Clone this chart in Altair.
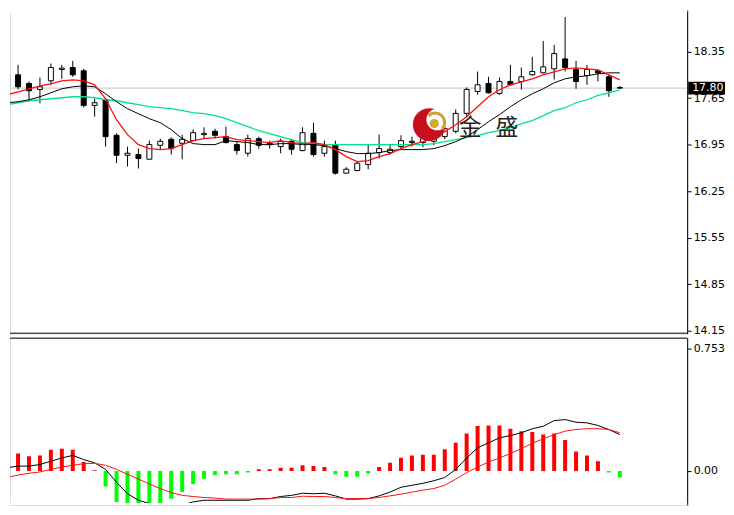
import altair as alt
import pandas as pd

# ---------------- data ----------------
idx = list(range(57))

open_ = [17.82, 18.00, 17.87, 17.78, 17.91, 18.08, 18.11, 18.06, 17.54, 17.63,
         17.09, 16.79, 16.80, 16.73, 16.94, 17.03, 16.97, 17.01, 17.10, 17.15,
         17.07, 16.95, 16.82, 17.04, 16.97, 16.92, 17.00, 16.86, 17.12, 16.82,
         16.95, 16.52, 16.56, 16.65, 16.83, 16.83, 16.92, 16.98, 16.98, 17.00,
         17.07, 17.15, 17.42, 17.75, 17.87, 17.72, 17.90, 17.90, 18.00, 18.03,
         18.09, 18.24, 18.08, 17.99, 18.06, 17.97, 17.81]
high = [18.35, 18.15, 17.90, 17.96, 18.17, 18.15, 18.21, 18.09, 17.64, 17.64,
        17.12, 16.92, 16.89, 17.01, 17.04, 17.06, 17.10, 17.18, 17.21, 17.19,
        17.22, 17.00, 17.10, 17.07, 17.01, 17.04, 17.03, 17.21, 17.28, 17.01,
        17.01, 16.61, 16.70, 16.95, 17.10, 16.95, 17.09, 17.07, 17.10, 17.18,
        17.27, 17.48, 17.81, 18.05, 17.97, 17.96, 18.15, 18.11, 18.27, 18.51,
        18.45, 18.87, 18.21, 18.15, 18.08, 18.00, 17.83]
low = [17.79, 17.78, 17.60, 17.57, 17.85, 17.94, 17.97, 17.51, 17.37, 16.92,
       16.67, 16.62, 16.59, 16.73, 16.88, 16.80, 16.73, 17.00, 17.04, 17.04,
       16.97, 16.80, 16.77, 16.89, 16.89, 16.82, 16.80, 16.85, 16.77, 16.77,
       16.50, 16.52, 16.55, 16.58, 16.74, 16.80, 16.88, 16.92, 16.91, 16.94,
       17.03, 17.12, 17.36, 17.70, 17.72, 17.70, 17.84, 17.78, 17.99, 18.02,
       17.93, 18.05, 17.79, 17.85, 17.90, 17.67, 17.79]
close = [18.02, 17.82, 17.76, 17.82, 18.11, 18.10, 18.00, 17.54, 17.58, 17.07,
         16.79, 16.82, 16.74, 16.95, 17.00, 16.89, 17.03, 17.13, 17.12, 17.09,
         16.98, 16.86, 17.04, 16.94, 16.95, 17.00, 16.88, 17.13, 16.80, 16.92,
         16.52, 16.58, 16.67, 16.82, 16.89, 16.88, 17.01, 17.00, 17.04, 17.07,
         17.19, 17.42, 17.78, 17.85, 17.73, 17.90, 17.85, 17.97, 18.05, 18.12,
         18.32, 18.11, 17.90, 18.08, 18.03, 17.76, 17.80]

ma_red = [17.70, 17.745, 17.79, 17.835, 17.865, 17.91, 17.925, 17.91, 17.85, 17.64,
          17.325, 17.10, 16.95, 16.89, 16.875, 16.89, 16.95, 17.01, 17.04, 17.055,
          17.07, 17.025, 17.01, 16.995, 16.98, 17.01, 16.98, 16.965, 16.98, 16.95,
          16.875, 16.77, 16.695, 16.71, 16.77, 16.815, 16.89, 16.95, 16.995, 17.055,
          17.145, 17.25, 17.37, 17.52, 17.67, 17.775, 17.85, 17.895, 17.94, 18.00,
          18.045, 18.09, 18.105, 18.09, 18.075, 18.00, 17.925]
ma_black = [17.58, 17.595, 17.625, 17.67, 17.73, 17.79, 17.82, 17.835, 17.82, 17.715,
            17.595, 17.49, 17.415, 17.34, 17.28, 17.175, 17.04, 16.965, 16.95, 16.95,
            17.01, 16.995, 16.98, 16.95, 16.95, 16.965, 16.965, 16.95, 16.95, 16.935,
            16.89, 16.845, 16.815, 16.815, 16.83, 16.86, 16.875, 16.875, 16.875, 16.89,
            16.935, 16.995, 17.07, 17.175, 17.295, 17.40, 17.52, 17.625, 17.715, 17.79,
            17.88, 17.94, 17.97, 17.985, 18.015, 18.03, 18.03]
ma_green = [17.55, 17.58, 17.61, 17.625, 17.64, 17.655, 17.67, 17.67, 17.655, 17.625,
            17.61, 17.58, 17.55, 17.52, 17.505, 17.49, 17.46, 17.43, 17.415, 17.385,
            17.34, 17.28, 17.22, 17.16, 17.115, 17.07, 17.025, 16.98, 16.965, 16.95,
            16.95, 16.95, 16.95, 16.95, 16.95, 16.95, 16.95, 16.95, 16.95, 16.965,
            16.995, 17.025, 17.055, 17.085, 17.13, 17.16, 17.205, 17.265, 17.31, 17.385,
            17.46, 17.505, 17.58, 17.625, 17.69, 17.73, 17.775]

hist = [0.10, 0.108, 0.09, 0.096, 0.13, 0.137, 0.13, 0.055, 0.005, -0.096,
        -0.19, -0.245, -0.26, -0.235, -0.20, -0.17, -0.13, -0.08, -0.047, -0.025,
        -0.02, -0.02, -0.01, 0.01, 0.01, 0.02, 0.02, 0.035, 0.03, 0.025,
        -0.02, -0.035, -0.035, -0.015, 0.025, 0.051, 0.082, 0.096, 0.10, 0.10,
        0.133, 0.173, 0.23, 0.276, 0.28, 0.28, 0.26, 0.245, 0.24, 0.225,
        0.23, 0.19, 0.12, 0.096, 0.06, -0.01, -0.04]
macd = [0.02, 0.03, 0.03, 0.04, 0.06, 0.08, 0.096, 0.07, 0.05, 0.01,
        -0.07, -0.14, -0.18, -0.20, -0.20, -0.21, -0.21, -0.19, -0.18, -0.18,
        -0.18, -0.18, -0.18, -0.17, -0.17, -0.157, -0.15, -0.137, -0.14, -0.137,
        -0.153, -0.173, -0.173, -0.17, -0.153, -0.13, -0.10, -0.088, -0.076, -0.06,
        -0.04, 0.01, 0.08, 0.143, 0.173, 0.204, 0.218, 0.235, 0.26, 0.275,
        0.31, 0.316, 0.30, 0.296, 0.28, 0.255, 0.224]
signal = [-0.04, -0.025, -0.014, -0.006, 0.01, 0.024, 0.035, 0.045, 0.047, 0.035,
          0.01, -0.02, -0.05, -0.08, -0.108, -0.133, -0.15, -0.157, -0.163, -0.167,
          -0.173, -0.173, -0.173, -0.173, -0.17, -0.163, -0.163, -0.155, -0.157, -0.157,
          -0.163, -0.17, -0.17, -0.17, -0.163, -0.153, -0.143, -0.13, -0.118, -0.108,
          -0.088, -0.05, -0.01, 0.024, 0.055, 0.08, 0.108, 0.137, 0.17, 0.198,
          0.224, 0.245, 0.255, 0.26, 0.26, 0.255, 0.235]

last_price = [17.80]
price_ticks = [14.15, 14.85, 15.55, 16.25, 16.95, 17.65, 18.35]
macd_ticks = [0.0, 0.753]
logo_text = ["金", "盛"]

df = pd.DataFrame({"i": idx, "open": open_, "high": high, "low": low, "close": close,
                   "ma_red": ma_red, "ma_black": ma_black, "ma_green": ma_green,
                   "hist": hist, "macd": macd, "signal": signal})
lp = pd.DataFrame({"p": last_price})

FONT = "DejaVu Sans"
W, H_MAIN, H_LOW = 680, 325, 168

xscale = alt.Scale(domain=[0.7175, 61.70], nice=False, zero=False)
ax_x = alt.Axis(labels=False, ticks=False, grid=False, title=None, domain=False)

yscale = alt.Scale(domain=[14.105, 18.975], nice=False, zero=False)
yaxis = alt.Axis(orient="right", values=price_ticks, format=".2f", grid=False, title=None,
                 domainColor="#000", tickColor="#000", tickSize=4, labelPadding=2,
                 labelFont=FONT, labelFontSize=11, labelColor="#000")

def X():
    return alt.X("i:Q", scale=xscale, axis=ax_x)

def Ym(field):
    return alt.Y(f"{field}:Q", scale=yscale, axis=yaxis)

base = alt.Chart(df)
one = alt.Chart(pd.DataFrame({"k": [0]}))

price_line = alt.Chart(lp).mark_rule(color="#c4c4c4", strokeWidth=1).encode(y=Ym("p"))
wicks = base.mark_rule(color="#000", strokeWidth=1, clip=True).encode(
    x=X(), y=Ym("low"), y2="high")
bodies = base.mark_bar(size=5, stroke="#000", strokeWidth=1, clip=True).encode(
    x=X(), y=Ym("open"), y2="close",
    fill=alt.condition("datum.close > datum.open", alt.value("#ffffff"), alt.value("#000000")))
l_green = base.mark_line(color="#00e58a", strokeWidth=1.3, clip=True).encode(x=X(), y=Ym("ma_green"))
l_black = base.mark_line(color="#000000", strokeWidth=1, clip=True).encode(x=X(), y=Ym("ma_black"))
l_red = base.mark_line(color="#ff1010", strokeWidth=1.3, clip=True).encode(x=X(), y=Ym("ma_red"))

# panel borders: hide the top edge, draw the bottom separator
top_cover = one.mark_rule(color="#ffffff", strokeWidth=3).encode(
    x=alt.value(0), x2=alt.value(W), y=alt.value(1.5))
sep_main = one.mark_rule(color="#000", strokeWidth=1).encode(
    x=alt.value(0), x2=alt.value(W), y=alt.value(H_MAIN - 0.5))

# logo (watermark)
logo_red = one.mark_point(filled=True, shape="circle", size=1080, color="#c80f1e", opacity=1).encode(
    x=alt.value(421), y=alt.value(115))
logo_white = one.mark_point(filled=True, shape="circle", size=470, color="#ffffff", opacity=1).encode(
    x=alt.value(429), y=alt.value(110))
logo_arc = one.mark_arc(radius=11, radius2=8, theta=5.5, theta2=8.6, color="#c9a43a").encode(
    x=alt.value(427), y=alt.value(113))
logo_ball = one.mark_point(filled=True, shape="circle", size=85, color="#d6a92c", opacity=1).encode(
    x=alt.value(426), y=alt.value(114))
logo_t1 = one.mark_text(text=logo_text[0], font="Noto Sans CJK SC", fontSize=23, color="#222",
                        baseline="middle", align="center").encode(x=alt.value(462), y=alt.value(118))
logo_t2 = one.mark_text(text=logo_text[1], font="Noto Sans CJK SC", fontSize=23, color="#222",
                        baseline="middle", align="center").encode(x=alt.value(499), y=alt.value(118))

# current price marker on the axis
box = alt.Chart(lp).mark_rect(color="#000", yOffset=-6.5, y2Offset=6.5).encode(
    x=alt.value(681), x2=alt.value(718), y=Ym("p"), y2="p")
box_txt = alt.Chart(lp).mark_text(color="#fff", align="left", baseline="middle", font=FONT,
                                  fontSize=11).encode(
    x=alt.value(685), y=Ym("p"), text=alt.Text("p:Q", format=".2f"))

main = alt.layer(price_line, wicks, bodies, l_green, l_black, l_red, top_cover, sep_main,
                 logo_red, logo_white, logo_arc, logo_ball, logo_t1, logo_t2,
                 box, box_txt).properties(width=W, height=H_MAIN)

# ---------------- lower (MACD) panel ----------------
lscale = alt.Scale(domain=[-0.209, 0.820], nice=False, zero=False)
laxis = alt.Axis(orient="right", values=macd_ticks, grid=False, title=None,
                 labelExpr="datum.value == 0 ? '0.00' : format(datum.value, '.3f')",
                 domainColor="#000", tickColor="#000", tickSize=4, labelPadding=2,
                 labelFont=FONT, labelFontSize=11, labelColor="#000")

def YL(field):
    return alt.Y(f"{field}:Q", scale=lscale, axis=laxis)

bars = base.mark_bar(size=4, clip=True).encode(
    x=X(), y=YL("hist"), y2=alt.datum(0),
    color=alt.condition("datum.hist >= 0", alt.value("#ff0000"), alt.value("#00ff00")))
l_macd = base.mark_line(color="#000", strokeWidth=1, clip=True).encode(x=X(), y=YL("macd"))
l_sig = base.mark_line(color="#ff1010", strokeWidth=1, clip=True).encode(x=X(), y=YL("signal"))
sep_low = one.mark_rule(color="#000", strokeWidth=1).encode(
    x=alt.value(0), x2=alt.value(W), y=alt.value(0.5))
bottom_cover = one.mark_rule(color="#ffffff", strokeWidth=2).encode(
    x=alt.value(0), x2=alt.value(W), y=alt.value(H_LOW - 1))

lower = alt.layer(bars, l_macd, l_sig, bottom_cover, sep_low).properties(width=W, height=H_LOW)

chart = alt.vconcat(main, lower, spacing=4, bounds="flush").properties(
    padding=0
).configure_view(stroke=None, strokeWidth=0).configure_axis(grid=False).configure_axisX(
    domain=False, grid=False, ticks=False, labels=False
).configure(background="#ffffff")

chart.save("out.html", embed_options={"renderer": "svg", "actions": False})
